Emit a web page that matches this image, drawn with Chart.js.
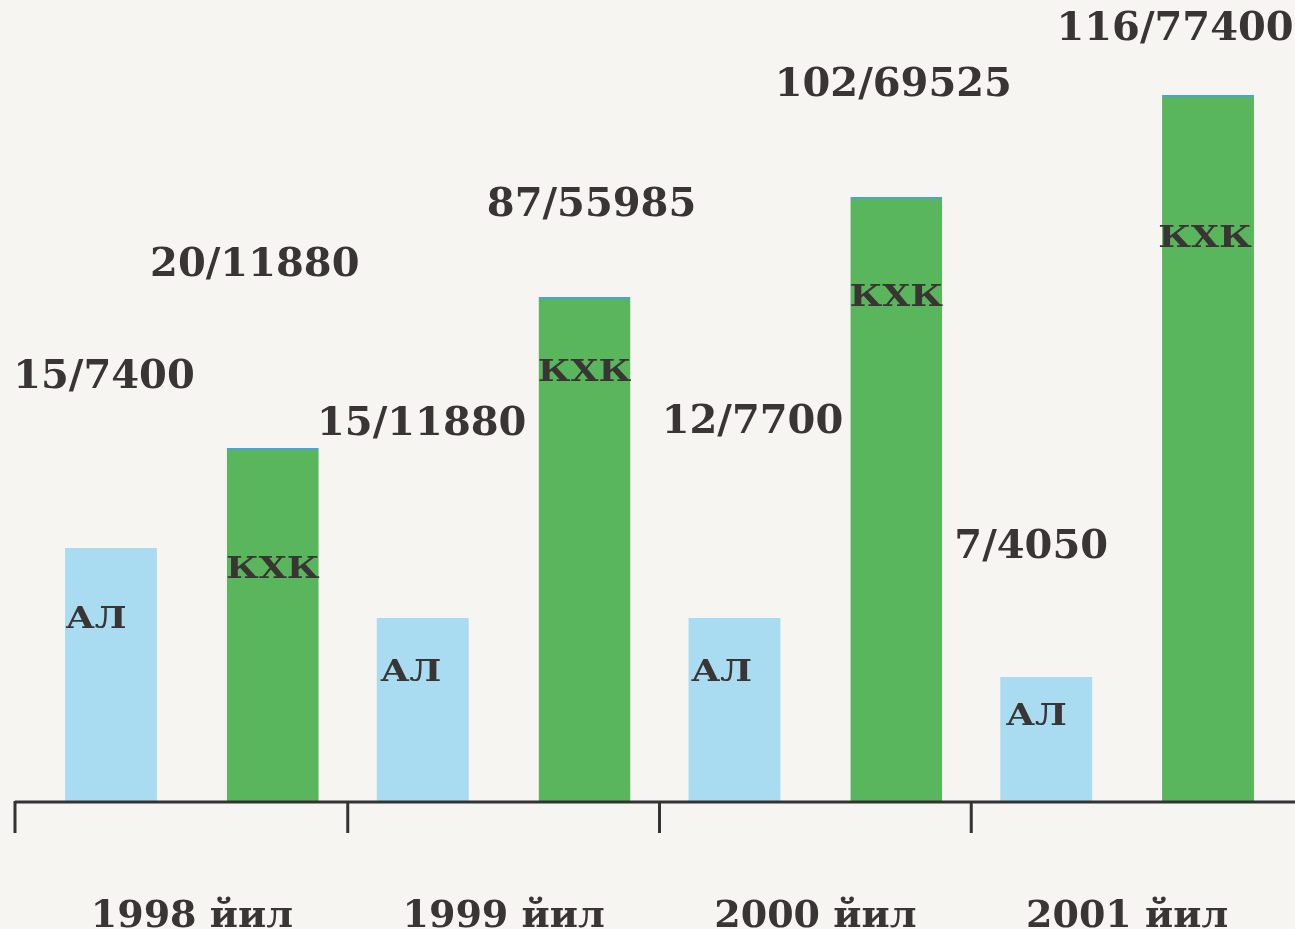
<!DOCTYPE html>
<html>
<head>
<meta charset="utf-8">
<script src="https://cdn.jsdelivr.net/npm/chart.js@4"></script>
<style>
html,body{margin:0;padding:0;background:#f6f5f2;}
canvas{display:block;}
</style>
</head>
<body>
<canvas id="c" width="1295" height="929"></canvas>
<script>
// ---- data ----
const years = ["1998 йил", "1999 йил", "2000 йил", "2001 йил"];
const alHeights = [253, 183, 183, 124];      // АЛ bar heights (relative units)
const kxkHeights = [353, 504, 604, 706];     // КХК bar heights (relative units)
const alLabels = ["15/7400", "15/11880", "12/7700", "7/4050"];
const kxkLabels = ["20/11880", "87/55985", "102/69525", "116/77400"];
const alName = "АЛ";
const kxkName = "КХК";

// ---- label placement (style, relative to each bar's top centre) ----
const alValueOffset = [[-7, -170], [-1, -193], [18, -195], [-15, -129]];
const kxkValueOffset = [[-18, -182], [7, -91], [-3, -111], [-33, -65]];
const alNameOffset = [[-15, 72], [-12, 55], [-13, 55], [-10, 40]];
const kxkNameOffset = [[0, 122], [0, 76], [0, 101], [-3, 144]];

const TEXT = '#3a3535';
const SERIF = '"DejaVu Serif", "Liberation Serif", serif';

const labelPlugin = {
  id: 'labels',
  afterDatasetsDraw(chart) {
    const ctx = chart.ctx;
    ctx.save();
    ctx.fillStyle = TEXT;
    ctx.textAlign = 'center';
    ctx.textBaseline = 'middle';
    const sets = [
      {meta: chart.getDatasetMeta(0), vals: alLabels, vo: alValueOffset, name: alName, no: alNameOffset},
      {meta: chart.getDatasetMeta(1), vals: kxkLabels, vo: kxkValueOffset, name: kxkName, no: kxkNameOffset}
    ];
    sets.forEach(s => {
      s.meta.data.forEach((bar, i) => {
        ctx.font = 'bold 40px ' + SERIF;
        ctx.fillText(s.vals[i], bar.x + s.vo[i][0], bar.y + s.vo[i][1]);
        ctx.save();
        ctx.translate(bar.x + s.no[i][0], bar.y + s.no[i][1]);
        ctx.scale(1.2, 1);
        ctx.font = 'bold 30px ' + SERIF;
        ctx.fillText(s.name, 0, 0);
        ctx.restore();
      });
    });
    ctx.restore();
  }
};

const axisPlugin = {
  id: 'axisLine',
  afterDatasetsDraw(chart) {
    const ctx = chart.ctx;
    const xs = chart.scales.x;
    const y = chart.chartArea.bottom;
    const startX = 15;
    ctx.save();
    ctx.strokeStyle = '#333';
    ctx.lineWidth = 3;
    ctx.beginPath();
    ctx.moveTo(startX, y + 1);
    ctx.lineTo(chart.width, y + 1);
    const half = (xs.getPixelForValue(1) - xs.getPixelForValue(0)) / 2;
    const ticks = [startX];
    for (let i = 1; i < years.length; i++) ticks.push(xs.getPixelForValue(i) - half);
    ticks.forEach(tx => {
      ctx.moveTo(tx, y);
      ctx.lineTo(tx, y + 32);
    });
    ctx.stroke();
    ctx.restore();
  }
};

new Chart(document.getElementById('c'), {
  type: 'bar',
  data: {
    labels: years,
    datasets: [
      {label: alName, data: alHeights, backgroundColor: '#a9dcf1', borderWidth: 0,
       categoryPercentage: 1.038, barPercentage: 0.568},
      {label: kxkName, data: kxkHeights, backgroundColor: '#5ab65c',
       borderColor: '#4aa3d6', borderWidth: {top: 2, left: 0, right: 0, bottom: 0}, borderSkipped: false,
       categoryPercentage: 1.038, barPercentage: 0.568}
    ]
  },
  options: {
    responsive: false,
    animation: false,
    layout: {padding: {left: 36, right: 12, top: 0, bottom: 0}},
    plugins: {legend: {display: false}, tooltip: {enabled: false}},
    scales: {
      x: {
        grid: {display: false},
        border: {display: false},
        ticks: {color: TEXT, font: {family: SERIF, size: 38, weight: 'bold'}, padding: 85, maxRotation: 0},
        afterFit(s) { s.height = 128; s.paddingLeft = 0; s.paddingRight = 0; }
      },
      y: {
        display: false, min: 0, max: 801
      }
    }
  },
  plugins: [labelPlugin, axisPlugin]
});
</script>
</body>
</html>
